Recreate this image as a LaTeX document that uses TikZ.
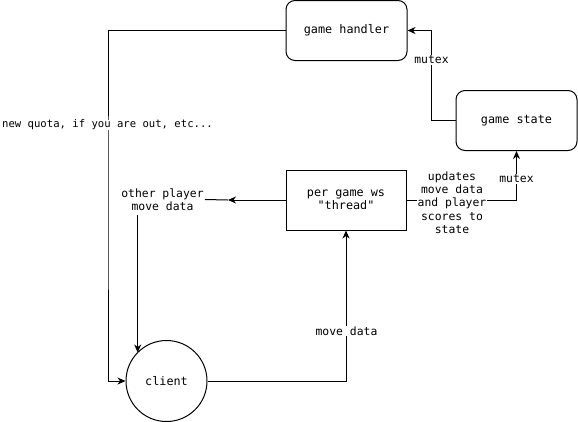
\documentclass[tikz,border=0pt]{standalone}
\usepackage{fontspec}
\setmonofont{DejaVu Sans Mono}
\usetikzlibrary{arrows.meta}
\begin{document}
\begin{tikzpicture}[x=1pt,y=-1pt,
  every node/.style={font=\ttfamily\fontsize{11.8}{13.3}\selectfont},
  rbox/.style={draw, line width=1pt, rounded corners=9pt, minimum width=121pt, minimum height=60pt, inner sep=0pt},
  sbox/.style={draw, line width=1pt, minimum width=120pt, minimum height=60pt, inner sep=0pt, align=center},
  cnode/.style={draw, line width=1pt, circle, minimum size=81pt, inner sep=0pt},
  conn/.style={line width=1pt},
  arr/.style={conn, -{Stealth[length=8pt,width=7pt,inset=2.5pt]}},
  lbl/.style={fill=white, inner sep=1pt, align=center, font=\ttfamily\fontsize{11.4}{13.3}\selectfont},
  smalllbl/.style={lbl, inner sep=0pt, font=\ttfamily\fontsize{10.6}{13}\selectfont}
]
\useasboundingbox (0,0) rectangle (578,421);
\fill[white] (0,0) rectangle (578,421);

\node[rbox] (gh) at (346.5,30.5) {game handler};
\node[rbox] (gs) at (516.5,120.5) {game state};
\node[sbox] (th) at (346,200) {per game ws\\"thread"};
\node[cnode] (cl) at (166.5,381) {client};

\coordinate (m1) at (431.5,60);
\coordinate (c1) at (108,200);
\coordinate (oa) at (228,200);
\coordinate (ob) at (137.7,215);
\coordinate (oc) at (137.7,352.5);

% connectors
\draw[arr] (gs.west) -| (m1) |- (gh.east);
\draw[arr] (gh.west) -| (c1) |- (cl.west);
\draw[arr] (th.west) -- (oa);
\node[lbl] (other) at (162.5,199.5) {other player\\move data};
\draw[conn] (oa) -- (other.east);
\draw[arr] (ob) -- (oc);
\draw[arr] (cl.east) -| (th.south);
\draw[arr] (th.east) -| (gs.south);

% labels
\node[lbl] (lm1) at (431.5,60) {mutex};
\node[smalllbl] (lq) at (107.5,125) {new quota, if you are out, etc...};
\node[lbl] (lmd) at (346.5,331) {move data};
\node[lbl] (lup) at (452,202.5) {updates\\move data\\and player\\scores to\\state};
\node[lbl] (lm2) at (516.5,179) {mutex};
\end{tikzpicture}
\end{document}
